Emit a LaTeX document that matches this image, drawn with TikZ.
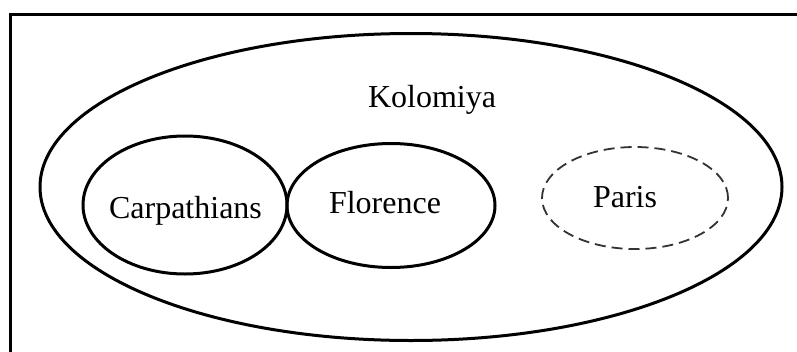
\documentclass[tikz,border=0pt]{standalone}
\usepackage{fontspec}
\setmainfont{Liberation Serif}
\usetikzlibrary{shapes.geometric}
\begin{document}
\begin{tikzpicture}[x=1pt,y=-1pt,
  setbox/.style={draw=black,ellipse,line width=3pt,inner sep=0pt},
  dashbox/.style={draw=black!80,ellipse,line width=1.8pt,inner sep=0pt,dash pattern=on 11pt off 6pt},
  lbl/.style={font=\fontsize{32}{36}\selectfont,anchor=base,inner sep=0pt}]
\useasboundingbox (0,0) rectangle (797,351);
\draw[line width=3pt] (10.5,360) -- (10.5,14.5) -- (800,14.5);
\node[setbox,minimum width=742pt,minimum height=307pt] (kol) at (411,187) {};
\node[setbox,minimum width=204pt,minimum height=138pt] (carp) at (185,205) {};
\node[setbox,minimum width=208pt,minimum height=124pt] (flor) at (391,205.5) {};
\node[dashbox,minimum width=186pt,minimum height=102pt] (par) at (635,198) {};
\node[lbl] (kolt) at (432,107) {Kolomiya};
\node[lbl] (carpt) at (185.5,218) {Carpathians};
\node[lbl] (flort) at (385,213) {Florence};
\node[lbl] (part) at (625,207) {Paris};
\end{tikzpicture}
\end{document}
